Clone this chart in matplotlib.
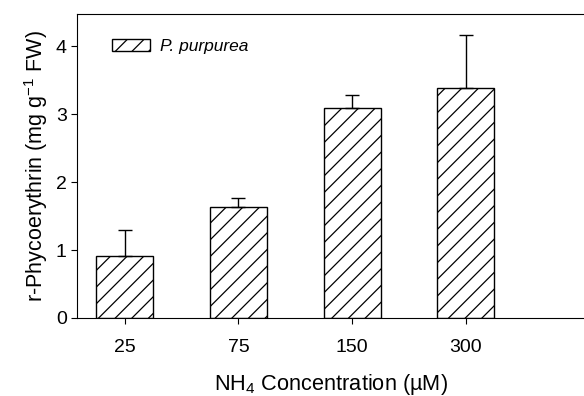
import matplotlib.pyplot as plt
import numpy as np

plt.rcParams['font.family'] = ['Liberation Sans', 'DejaVu Sans']
plt.rcParams['mathtext.default'] = 'regular'
plt.rcParams['hatch.linewidth'] = 0.9

# Data
concentrations = ['25', '75', '150', '300']
phycoerythrin = [0.92, 1.63, 3.10, 3.39]
errors = [0.37, 0.14, 0.19, 0.78]

x = np.arange(len(concentrations))

fig = plt.figure(figsize=(5.84, 3.96), dpi=100)
ax = fig.add_axes([0.132, 0.197, 0.87, 0.768])

ax.bar(x, phycoerythrin, width=0.5, color='white', edgecolor='black',
       linewidth=1.0, hatch='//', label='P. purpurea')
ax.errorbar(x, phycoerythrin, yerr=[np.zeros(len(errors)), errors],
            fmt='none', ecolor='black', elinewidth=1.0, capsize=5, capthick=1.0)

ax.set_xlim(-0.42, 4.05)
ax.set_ylim(0, 4.48)
ax.set_xticks(x)
ax.set_xticklabels(concentrations)
ax.set_yticks([0, 1, 2, 3, 4])
ax.tick_params(axis='both', labelsize=14, direction='out', length=4)
ax.tick_params(axis='x', pad=11)
ax.spines['right'].set_visible(False)

ax.set_ylabel('r-Phycoerythrin (mg g$^{-1}$ FW)', fontsize=15.5)
ax.set_xlabel('NH$_4$ Concentration (\u00b5M)', fontsize=15.7, labelpad=12)

leg = ax.legend(loc='upper left', frameon=False,
                prop={'style': 'italic', 'size': 12.5},
                handlelength=2.2, handleheight=0.7, handletextpad=0.55,
                bbox_to_anchor=(0.055, 0.94), borderaxespad=0)

plt.savefig('out.png', dpi=100)
